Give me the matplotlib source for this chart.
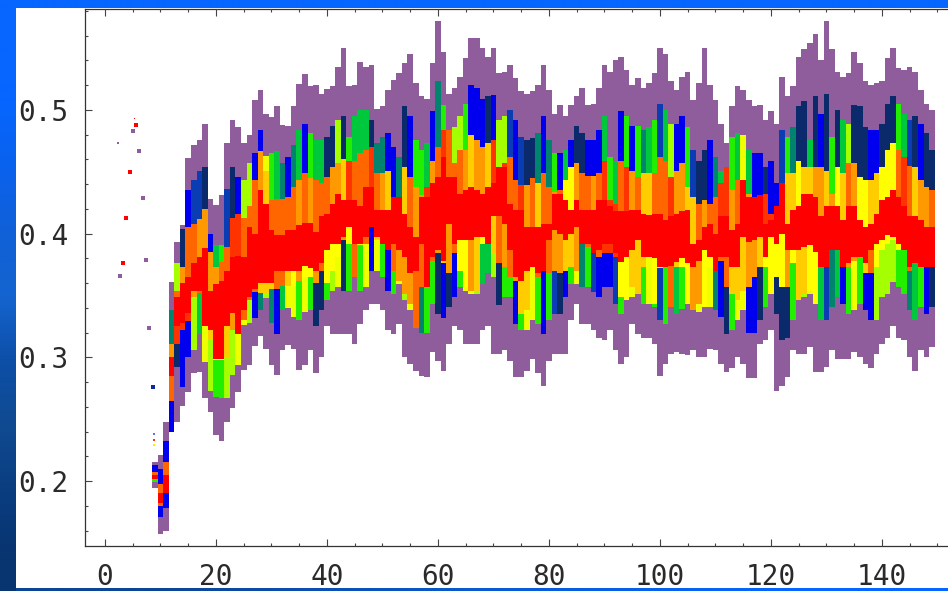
import numpy as np
import matplotlib
matplotlib.use("Agg")
import matplotlib.pyplot as plt
from matplotlib.ticker import MultipleLocator

x_start = 9
purple_top = [.215,.221,.248,.361,.393,.407,.461,.472,.476,.489,.428,.423,.431,.473,.492,.486,.473,.480,.508,.516,.497,.494,.503,.488,.487,.503,.521,.529,.519,.520,
 .513,.517,.519,.535,.550,.519,.520,.539,.535,.536,.501,.503,.516,.524,.530,.538,.545,.522,.511,.509,.538,.572,.547,.513,.518,.527,.542,.558,.558,.550,.543,.550,.530,.531,.536,.526,.515,.513,.515,.520,.536,.516,.497,.504,.495,.504,.511,.518,.504,.505,.518,.536,.531,.540,.543,.532,.520,.526,
 .518,.522,.530,.550,.545,.523,.516,.527,.531,.508,.522,.550,.520,.508,.489,.473,.503,.519,.516,.508,.503,.504,.492,.499,.489,.527,.511,.519,.543,.549,.554,.561,.540,.572,.549,.531,.527,.530,.547,.538,.523,.520,.522,.523,.542,.550,.534,.532,.535,.531,.516,.505,.500]
color_top = [.213,.210,.232,.338,.376,.404,.435,.443,.451,.454,.400,.391,.391,.436,.454,.446,.443,.457,.465,.484,.463,.465,.467,.457,.462,.472,.484,.489,.481,.476,
 .476,.478,.487,.492,.495,.478,.495,.500,.500,.492,.473,.478,.481,.470,.462,.503,.495,.476,.468,.473,.499,.523,.504,.484,.486,.495,.505,.520,.518,.509,.511,.512,.492,.495,.500,.492,.478,.476,.477,.481,.495,.476,.465,.465,.468,.476,.487,.481,.476,.476,.484,.495,.462,.459,.499,.495,.487,.487,
 .484,.486,.492,.505,.500,.489,.489,.495,.486,.468,.459,.468,.476,.462,.451,.454,.478,.481,.480,.468,.465,.465,.454,.459,.441,.484,.478,.486,.503,.507,.476,.511,.497,.513,.478,.500,.492,.489,.504,.503,.486,.484,.484,.489,.505,.511,.505,.497,.492,.495,.489,.481,.468]
orange_top = [.207,.198,.215,.311,.354,.373,.405,.408,.412,.420,.385,.373,.377,.389,.413,.416,.413,.422,.443,.467,.451,.427,.428,.428,.430,.438,.443,.449,.445,.443,
 .441,.446,.454,.457,.460,.459,.459,.465,.468,.470,.449,.449,.451,.430,.430,.454,.446,.438,.431,.438,.459,.470,.484,.484,.457,.468,.468,.480,.476,.470,.473,.476,.454,.457,.462,.443,.439,.439,.445,.441,.449,.438,.434,.435,.443,.454,.457,.449,.447,.447,.449,.459,.427,.424,.459,.454,.451,.446,
 .449,.449,.449,.462,.459,.446,.451,.457,.438,.430,.424,.427,.424,.430,.441,.454,.435,.443,.443,.432,.430,.431,.432,.416,.422,.441,.449,.449,.459,.454,.454,.454,.454,.451,.432,.454,.449,.457,.457,.446,.443,.443,.449,.454,.468,.473,.468,.462,.455,.454,.443,.438,.435]
red_top = [.205,.190,.205,.300,.349,.360,.365,.376,.381,.388,.354,.359,.362,.370,.381,.382,.381,.405,.400,.435,.424,.403,.399,.399,.403,.403,.407,.409,.409,.401,
 .414,.416,.424,.432,.427,.427,.427,.422,.438,.438,.419,.419,.419,.430,.430,.416,.405,.397,.430,.430,.441,.446,.462,.446,.446,.432,.435,.438,.435,.432,.438,.441,.454,.454,.424,.419,.419,.405,.405,.405,.408,.408,.432,.432,.427,.419,.427,.419,.419,.419,.427,.427,.422,.418,.418,.418,.419,.419,
 .416,.415,.416,.416,.411,.414,.416,.418,.419,.392,.395,.405,.408,.400,.414,.414,.403,.408,.443,.430,.430,.431,.408,.411,.422,.441,.408,.419,.422,.432,.432,.430,.414,.422,.422,.422,.411,.422,.422,.411,.405,.408,.416,.427,.430,.435,.430,.422,.414,.414,.411,.405,.405]
red_bot = [.202,.182,.190,.285,.325,.328,.336,.354,.354,.325,.322,.299,.299,.325,.336,.319,.338,.349,.355,.360,.360,.360,.370,.370,.370,.370,.370,.374,.372,.370,
 .376,.387,.392,.392,.397,.405,.392,.392,.397,.405,.397,.392,.387,.392,.387,.381,.368,.370,.392,.357,.381,.387,.378,.408,.392,.395,.395,.395,.397,.397,.392,.414,.414,.408,.387,.365,.362,.370,.373,.368,.370,.395,.403,.400,.395,.400,.405,.392,.392,.384,.387,.392,.392,.384,.377,.381,.387,.395,
 .381,.381,.380,.373,.373,.374,.377,.380,.376,.373,.378,.387,.381,.370,.381,.381,.373,.373,.397,.393,.395,.397,.381,.397,.392,.400,.387,.387,.387,.389,.391,.385,.373,.373,.387,.387,.373,.376,.381,.381,.376,.387,.392,.395,.399,.397,.392,.387,.373,.376,.373,.373,.373]
orange_bot = [.202,.180,.190,.265,.311,.322,.329,.349,.352,.325,.314,.298,.298,.300,.322,.319,.330,.346,.353,.352,.352,.355,.355,.358,.358,.358,.362,.365,.365,.360,
 .370,.360,.370,.381,.395,.392,.365,.391,.392,.405,.395,.392,.387,.370,.362,.351,.343,.324,.357,.357,.378,.384,.376,.368,.384,.370,.357,.354,.354,.392,.392,.384,.376,.373,.365,.362,.335,.338,.373,.365,.370,.368,.370,.368,.370,.373,.370,.392,.389,.384,.381,.384,.384,.381,.349,.346,.357,.351,
 .373,.381,.343,.372,.373,.341,.373,.373,.343,.338,.343,.341,.373,.370,.378,.357,.351,.346,.354,.357,.365,.373,.373,.351,.365,.357,.357,.376,.346,.351,.354,.343,.373,.373,.387,.387,.373,.373,.378,.381,.368,.368,.373,.387,.392,.395,.387,.387,.370,.376,.373,.373,.373]
color_bot = [.199,.171,.178,.240,.292,.276,.300,.306,.319,.296,.273,.268,.267,.267,.286,.294,.326,.328,.332,.338,.348,.328,.319,.338,.340,.333,.330,.337,.338,.325,
 .338,.346,.354,.357,.354,.354,.365,.354,.357,.370,.370,.365,.354,.351,.359,.346,.338,.324,.320,.320,.343,.335,.332,.341,.349,.357,.354,.351,.351,.359,.368,.365,.342,.349,.349,.327,.322,.322,.330,.327,.319,.330,.335,.335,.349,.359,.359,.357,.357,.353,.349,.357,.357,.343,.335,.346,.349,.351,
 .343,.343,.341,.330,.327,.341,.335,.339,.343,.338,.337,.341,.341,.338,.333,.319,.322,.330,.338,.320,.320,.330,.341,.351,.335,.314,.316,.330,.346,.349,.351,.343,.330,.330,.341,.349,.343,.335,.338,.343,.338,.330,.330,.349,.351,.361,.357,.351,.338,.330,.341,.335,.341]
purple_bot = [.194,.157,.160,.240,.248,.261,.272,.287,.288,.267,.256,.237,.232,.248,.259,.272,.290,.294,.309,.317,.307,.294,.286,.306,.310,.307,.290,.294,.306,.287,
 .300,.325,.319,.319,.319,.319,.311,.327,.338,.343,.343,.338,.322,.319,.327,.300,.295,.289,.285,.284,.304,.297,.289,.311,.325,.322,.311,.311,.311,.322,.325,.303,.303,.306,.297,.284,.284,.289,.299,.287,.277,.297,.303,.303,.303,.330,.343,.327,.327,.322,.316,.314,.322,.306,.295,.300,.327,.319,
 .316,.316,.311,.285,.295,.303,.304,.303,.302,.306,.300,.300,.307,.306,.295,.288,.291,.300,.295,.283,.283,.311,.314,.322,.273,.277,.284,.306,.303,.303,.308,.288,.288,.292,.306,.299,.299,.299,.304,.300,.295,.291,.303,.311,.316,.325,.316,.314,.300,.289,.306,.300,.308]

outer_top_codes = ("bbbtlnbddn bgGdnbllbb yGgtbtgbGg gnnlnGgggn ttbbtnbGGg btGtllGbbb nblldbdnnt "
                   "btGbgbnnbb bgGgbGbGtg GdglbbGdnn btgyGgygbb nbbdGtnngn bnGnglnnnb bnnnGgdnbnn").replace(" ", "")
outer_bot_codes = ("Gbbbnbblgy lGGllyylbt ltbgyyGyGn nGlynGtGyb yGbGylyGtG GnbnbGyylg glnGGbGyyG "
                   "bGdnbGytGd bbbdGyylGy GdGygGGyyG ytbnGyybbn GynnnGylyy gdtgbGyGbb llllGGtgGbn").replace(" ", "")
inner_top_codes = ("oooaoaooaa aaoorroooa yoooooaoao ooaayrooor oayyYyoaar aoroooayaa yrrrooraoy "
                   "ooaoYYaooa orrroraoyy oooraayyoa oorraooarr rrrYyyYyya ayaYyoaYYy yYYYoroyaao").replace(" ", "")
inner_bot_codes = ("oooorrraoy yYYyayoooy yyooyYaYYa oYYYaYoYoa yaooaaaooa oayaoYYayY yyoaoayyao "
                   "ooaayyaooa orrrYYyyyy YYaoyYYaaY Yoooyyyaay YYYYaYyyYY aoooaaayyo YYYYYoorrro").replace(" ", "")

purple_pts_x = [2.7, 5.0, 6.1, 6.8, 7.4, 7.9]
purple_pts_y = [.366, .483, .467, .429, .379, .324]
red_pts_x = [3.2, 3.8, 4.5, 5.6]
red_pts_y = [.376, .413, .450, .488]
navy_pts_x = [8.6]
navy_pts_y = [.276]
tiny_pts_x = [2.4, 5.3, 8.8, 8.8, 8.8]
tiny_pts_y = [.473, .493, .238, .233, .229]
tiny_pts_c = ['#8f5c9c', '#ff0000', '#6a6af0', '#ff3300', '#ffee00']
x_ticks = [0, 20, 40, 60, 80, 100, 120, 140]
y_ticks = [0.2, 0.3, 0.4, 0.5]

palette = {'n': '#0b2a6b', 'd': '#0a3cb4', 'b': '#0000ee', 't': '#00846e', 'g': '#00c83c',
           'G': '#22ee00', 'l': '#a6ff00', 'y': '#eeff00',
           'r': '#ff3300', 'o': '#ff6600', 'a': '#ff9900', 'Y': '#ffe600'}
palette_inner = dict(palette, y='#ffcc00', Y='#ffff00')
PURPLE = '#8f5c9c'
RED = '#ff0000'

x = np.arange(x_start, x_start + len(purple_top))
fig = plt.figure(figsize=(9.48, 5.91), dpi=100, facecolor='white')

W, H = 948.0, 591.0
def strip(l, t, r, b, colors, vertical=True):
    a = fig.add_axes([l/W, 1-b/H, (r-l)/W, (b-t)/H], zorder=0)
    a.axis('off')
    rgb = np.array([matplotlib.colors.to_rgb(c) for c in colors])
    img = rgb[:, None, :] if vertical else rgb[None, :, :]
    a.imshow(img, aspect='auto', interpolation='bilinear')
strip(0, 0, 948, 8, ['#0666ff', '#0666ff'], vertical=False)
strip(0, 0, 16, 591, ['#0666ff', '#0666ff', '#0a62ee', '#1060d8', '#1464d0', '#0d4fa8', '#104a90', '#0a3d80', '#08346f'])
strip(16, 588, 948, 591, ['#0c4596', '#0a5ad0', '#0666ff'], vertical=False)

ax = fig.add_axes([85/W, 1-546/H, (948-85)/W, (546-9)/H], zorder=2)
ax.set_facecolor('white')
fig.patches.append(plt.Rectangle((16/W, 1-588/H), (948-16)/W, (588-8)/H, transform=fig.transFigure,
                                 facecolor='white', edgecolor='none', zorder=1))

def stack(lo, hi, cols):
    ax.bar(x, np.array(hi) - np.array(lo), bottom=lo, width=1.0, color=cols, linewidth=0, antialiased=False)

stack(purple_bot, purple_top, PURPLE)
stack(orange_top, color_top, [palette[c] for c in outer_top_codes])
stack(color_bot, orange_bot, [palette[c] for c in outer_bot_codes])
stack(red_top, orange_top, [palette_inner[c] for c in inner_top_codes])
stack(orange_bot, red_bot, [palette_inner[c] for c in inner_bot_codes])
stack(red_bot, red_top, RED)

ax.scatter(purple_pts_x, purple_pts_y, marker='s', s=8, color=PURPLE, linewidths=0)
ax.scatter(red_pts_x, red_pts_y, marker='s', s=8, color=RED, linewidths=0)
ax.scatter(navy_pts_x, navy_pts_y, marker='s', s=8, color='#0b2a9b', linewidths=0)
ax.scatter(tiny_pts_x, tiny_pts_y, marker='s', s=1.5, c=tiny_pts_c, linewidths=0)

ax.set_xlim(-3.6, 151.9)
ax.set_ylim(0.1475, 0.5816)
ax.set_xticks(x_ticks)
ax.set_xticklabels([str(v) for v in x_ticks])
ax.set_yticks(y_ticks)
ax.set_yticklabels([f"{v:.1f}" for v in y_ticks])
ax.xaxis.set_minor_locator(MultipleLocator(5))
ax.yaxis.set_minor_locator(MultipleLocator(0.02))
ax.tick_params(axis='both', which='major', direction='in', length=5, width=0.8, color='#444444',
               labelsize=20, labelcolor='#2a2a2a', top=True, pad=12)
ax.tick_params(axis='both', which='minor', direction='in', length=2.5, width=0.8, color='#444444', top=True)
for lab in ax.get_xticklabels() + ax.get_yticklabels():
    lab.set_family('DejaVu Sans Mono')
for s in ['top', 'left', 'bottom']:
    ax.spines[s].set_linewidth(0.9)
    ax.spines[s].set_color('#333333')
ax.spines['right'].set_visible(False)
ax.set_axisbelow(False)
fig.savefig('out.png', dpi=100)
